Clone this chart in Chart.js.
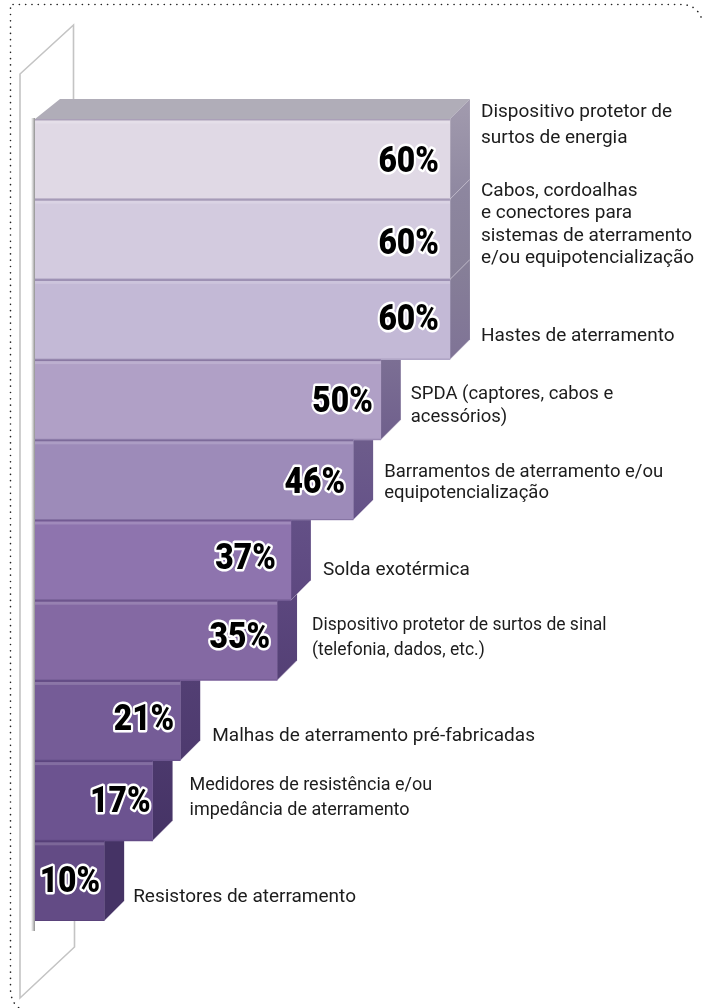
<!DOCTYPE html>
<html lang="pt-BR">
<head>
  <meta charset="UTF-8">
  <title>Produtos de aterramento</title>
  <script src="https://cdn.jsdelivr.net/npm/chart.js"></script>
  <style>
    html, body { margin: 0; padding: 0; background: #fff; }
    #wrap { position: relative; width: 702px; height: 1008px; overflow: hidden; }
  </style>
</head>
<body>
  <div id="wrap"><canvas id="grafico" width="702" height="1008"></canvas></div>
  <script>
    // data
    var categories = [
      ['Dispositivo protetor de', 'surtos de energia'],
      ['Cabos, cordoalhas', 'e conectores para', 'sistemas de aterramento', 'e/ou equipotencialização'],
      ['Hastes de aterramento'],
      ['SPDA (captores, cabos e', 'acessórios)'],
      ['Barramentos de aterramento e/ou', 'equipotencialização'],
      ['Solda exotérmica'],
      ['Dispositivo protetor de surtos de sinal', '(telefonia, dados, etc.)'],
      ['Malhas de aterramento pré-fabricadas'],
      ['Medidores de resistência e/ou', 'impedância de aterramento'],
      ['Resistores de aterramento']
    ];
    var values = [60, 60, 60, 50, 46, 37, 35, 21, 17, 10];

    // styling
    var frontColors = ['#e0d9e5', '#d3cbdf', '#c3b9d6', '#b0a0c6', '#9d8bb9', '#8e74ae', '#8469a3', '#755c97', '#6c5390', '#634b85'];
    var sideColors = ['#a29bae', '#8e87a0', '#878098', '#7f7396', '#6f5f8c', '#655288', '#5d4880', '#544075', '#4d3a6e', '#453365'];
    var depthX = 20, depthY = 20;
    var labelGap = [11, 11, 11, 10, 11, 12, 15, 12, 17, 9];      // gap after the side face
    var labelDy = [-47, -48, 17, -5, -8, 10, -15, 16, -15, 16];  // first line, from bar center
    var labelLead = [26, 22.3, 22, 23, 21, 22, 25, 22, 25, 22];
    var labelSize = [19, 19, 19, 18.5, 18.5, 19, 17.5, 19, 18, 19];
    var pctRight = [-11, -11, -11, -8, -8, -15, -7, -6, -2, -4];
    var pctDy = [4, 5, 1, 3, 4, 0, -2, 0, 2, 2];

    function strip(ctx, x, y, w, h, col) {
      ctx.fillStyle = col;
      ctx.fillRect(x, y, w, h);
    }

    var extras = {
      id: 'extras',
      beforeDatasetsDraw: function (chart) {
        var ctx = chart.ctx, area = chart.chartArea;
        var bars = chart.getDatasetMeta(0).data;
        ctx.save();

        // dotted frame
        ctx.strokeStyle = '#222';
        ctx.lineWidth = 1.6;
        ctx.lineCap = 'round';
        ctx.setLineDash([0.1, 6.2]);
        ctx.beginPath();
        ctx.moveTo(701, 17);
        ctx.quadraticCurveTo(696, 5, 682, 4.5);
        ctx.lineTo(10.5, 4.5);
        ctx.lineTo(10.5, 990);
        ctx.quadraticCurveTo(11, 1002, 19, 1008);
        ctx.stroke();
        ctx.setLineDash([]);

        // back panel
        ctx.strokeStyle = '#c4c4c4';
        ctx.lineWidth = 1.6;
        ctx.lineCap = 'butt';
        ctx.beginPath();
        ctx.moveTo(73.5, area.top - depthY);
        ctx.lineTo(73.5, 25);
        ctx.lineTo(20, 74);
        ctx.lineTo(20, 998);
        ctx.lineTo(74.5, 947);
        ctx.lineTo(74.5, area.bottom);
        ctx.stroke();

        // soft shadow down the left edge of the stack
        var sh = ctx.createLinearGradient(area.left - 4, 0, area.left, 0);
        sh.addColorStop(0, 'rgba(150,150,150,0)');
        sh.addColorStop(1, 'rgba(130,130,130,0.9)');
        ctx.fillStyle = sh;
        ctx.fillRect(area.left - 4, area.top - 1, 4, area.bottom - area.top + 11);

        // top and side faces, bottom bar first so the upper ones lie over it
        for (var i = bars.length - 1; i >= 0; i--) {
          var b = bars[i];
          var top = b.y - b.height / 2, bottom = b.y + b.height / 2;
          var left = b.base, right = b.x;

          ctx.fillStyle = '#b0adb8';
          ctx.beginPath();
          ctx.moveTo(left, top);
          ctx.lineTo(left + depthX + 5, top - depthY);
          ctx.lineTo(right + depthX, top - depthY);
          ctx.lineTo(right, top);
          ctx.closePath();
          ctx.fill();

          var g = ctx.createLinearGradient(0, top - depthY, 0, bottom);
          g.addColorStop(0, sideColors[i]);
          g.addColorStop(1, sideColors[Math.min(i + 1, sideColors.length - 1)]);
          ctx.fillStyle = g;
          ctx.beginPath();
          ctx.moveTo(right, top);
          ctx.lineTo(right + depthX, top - depthY);
          ctx.lineTo(right + depthX, bottom - depthY);
          ctx.lineTo(right, bottom);
          ctx.closePath();
          ctx.fill();

          // pale edge on the lower diagonal of the side
          ctx.strokeStyle = 'rgba(230,225,235,0.45)';
          ctx.lineWidth = 1;
          ctx.beginPath();
          ctx.moveTo(right, bottom);
          ctx.lineTo(right + depthX, bottom - depthY);
          ctx.stroke();
        }
        ctx.restore();
      },
      afterDatasetsDraw: function (chart) {
        var ctx = chart.ctx;
        var bars = chart.getDatasetMeta(0).data;
        var labels = chart.data.labels;
        ctx.save();

        bars.forEach(function (b, i) {
          var top = b.y - b.height / 2, bottom = b.y + b.height / 2;
          var w = b.x - b.base;

          // bevel on the front face
          strip(ctx, b.base, top, w, 1.5, 'rgba(60,40,90,0.32)');
          strip(ctx, b.base, top + 1.5, w, 3, 'rgba(255,255,255,0.16)');
          strip(ctx, b.base, bottom - 1, w, 1, 'rgba(60,40,90,0.22)');

          // value, squeezed a little to get the condensed look
          ctx.save();
          ctx.translate(b.x + pctRight[i], b.y + pctDy[i]);
          ctx.scale(0.86, 1);
          ctx.font = '900 37px Roboto';
          ctx.textAlign = 'right';
          ctx.textBaseline = 'middle';
          ctx.lineJoin = 'round';
          ctx.strokeStyle = '#fff';
          ctx.lineWidth = 5;
          ctx.strokeText(values[i] + '%', 0, 0);
          ctx.fillStyle = '#000';
          ctx.fillText(values[i] + '%', 0, 0);
          ctx.restore();

          // category text to the right of the bar
          ctx.font = labelSize[i] + 'px Roboto';
          ctx.textAlign = 'left';
          ctx.textBaseline = 'middle';
          ctx.fillStyle = '#1c1c1c';
          labels[i].forEach(function (line, n) {
            ctx.fillText(line, b.x + depthX + labelGap[i], b.y + labelDy[i] + n * labelLead[i]);
          });
        });
        ctx.restore();
      }
    };

    new Chart(document.getElementById('grafico'), {
      type: 'bar',
      data: {
        labels: categories,
        datasets: [{
          data: values,
          backgroundColor: frontColors,
          borderWidth: 0,
          barPercentage: 1,
          categoryPercentage: 1
        }]
      },
      options: {
        indexAxis: 'y',
        responsive: false,
        animation: false,
        layout: { padding: { left: 35, right: 10, top: 119, bottom: 87 } },
        plugins: { legend: { display: false }, tooltip: { enabled: false } },
        scales: {
          x: { display: false, min: 0, max: 95 },
          y: { display: false }
        }
      },
      plugins: [extras]
    });
  </script>
</body>
</html>
